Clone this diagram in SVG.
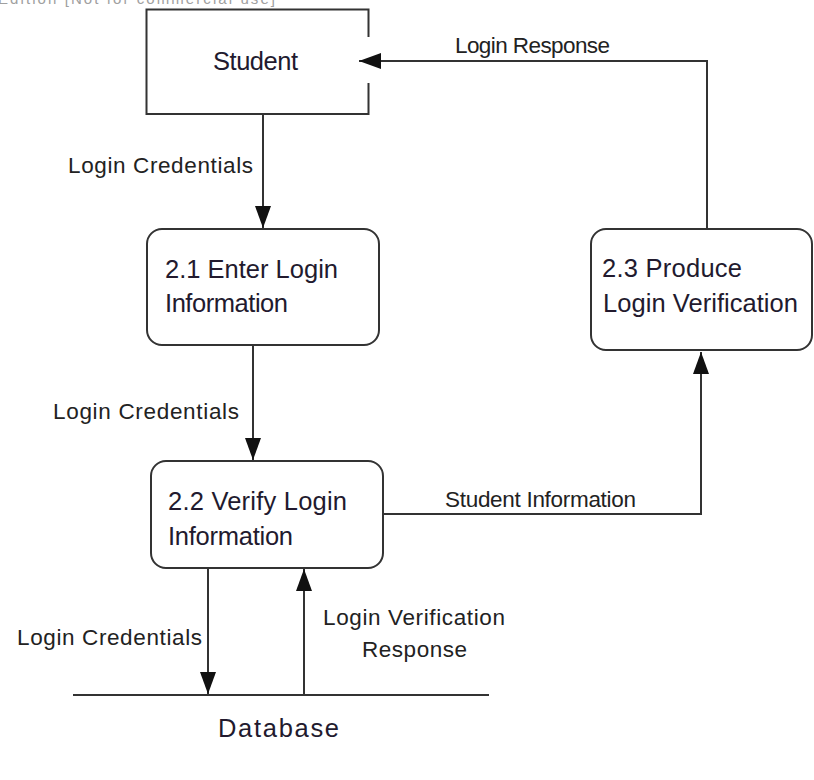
<svg xmlns="http://www.w3.org/2000/svg" width="814" height="780" viewBox="0 0 814 780">
<style>
  .box { fill: #ffffff; stroke: #333333; stroke-width: 2; }
  .line { fill: none; stroke: #333333; stroke-width: 2; }
  .node { font-family: "Liberation Sans", Arial, sans-serif; font-size: 25.5px; fill: #221a2e; }
  .lbl { font-family: "Liberation Sans", Arial, sans-serif; font-size: 22.5px; fill: #222222; }
  .wm { font-family: "Liberation Sans", Arial, sans-serif; font-size: 15px; fill: #a0a0a0; }
</style>
<defs>
  <marker id="arr" markerUnits="userSpaceOnUse" markerWidth="24" markerHeight="18" viewBox="0 0 24 18" refX="22" refY="9" orient="auto">
    <path d="M0,1 L22,9 L0,17 Z" fill="#111111"/>
  </marker>
</defs>
<rect width="814" height="780" fill="#ffffff"/>
<text class="wm" x="-2" y="4" textLength="277">Edition [Not for commercial use]</text>

<g id="connectors">
  <path class="line" d="M263,115 L263,228" marker-end="url(#arr)"/>
  <path class="line" d="M707,229 L707,61 L359,61" marker-end="url(#arr)"/>
  <path class="line" d="M253,345 L253,460" marker-end="url(#arr)"/>
  <path class="line" d="M383,514 L701,514 L701,352" marker-end="url(#arr)"/>
  <path class="line" d="M208,568 L208,694" marker-end="url(#arr)"/>
  <path class="line" d="M304,695 L304,569" marker-end="url(#arr)"/>
  <text class="lbl" x="68" y="173" textLength="185">Login Credentials</text>
  <text class="lbl" x="455" y="53" textLength="155">Login Response</text>
  <text class="lbl" x="53" y="419" textLength="186">Login Credentials</text>
  <text class="lbl" x="445" y="507" textLength="191">Student Information</text>
  <text class="lbl" x="17" y="645" textLength="185">Login Credentials</text>
  <text class="lbl" x="323" y="625" textLength="182">Login Verification</text>
  <text class="lbl" x="362" y="657" textLength="105">Response</text>
</g>

<g id="student">
  <path class="line" d="M368.5,37 L368.5,9.5 L146.5,9.5 L146.5,114 L368.5,114 L368.5,83"/>
  <text class="node" x="213" y="70" font-size="24" textLength="85">Student</text>
</g>

<g id="p21">
  <rect class="box" x="147" y="229" width="232" height="116" rx="15" ry="15"/>
  <text class="node" x="165" y="278" textLength="173">2.1 Enter Login</text>
  <text class="node" x="165" y="312" textLength="123">Information</text>
</g>

<g id="p22">
  <rect class="box" x="151" y="461" width="232" height="107" rx="15" ry="15"/>
  <text class="node" x="168" y="510" textLength="179">2.2 Verify Login</text>
  <text class="node" x="168" y="545" textLength="125">Information</text>
</g>

<g id="p23">
  <rect class="box" x="591" y="229" width="221" height="121" rx="15" ry="15"/>
  <text class="node" x="602" y="277" textLength="140">2.3 Produce</text>
  <text class="node" x="603" y="312" textLength="195">Login Verification</text>
</g>

<g id="database">
  <path class="line" d="M73,695 L489,695"/>
  <text class="node" x="218" y="737" font-size="27" textLength="121">Database</text>
</g>
</svg>
